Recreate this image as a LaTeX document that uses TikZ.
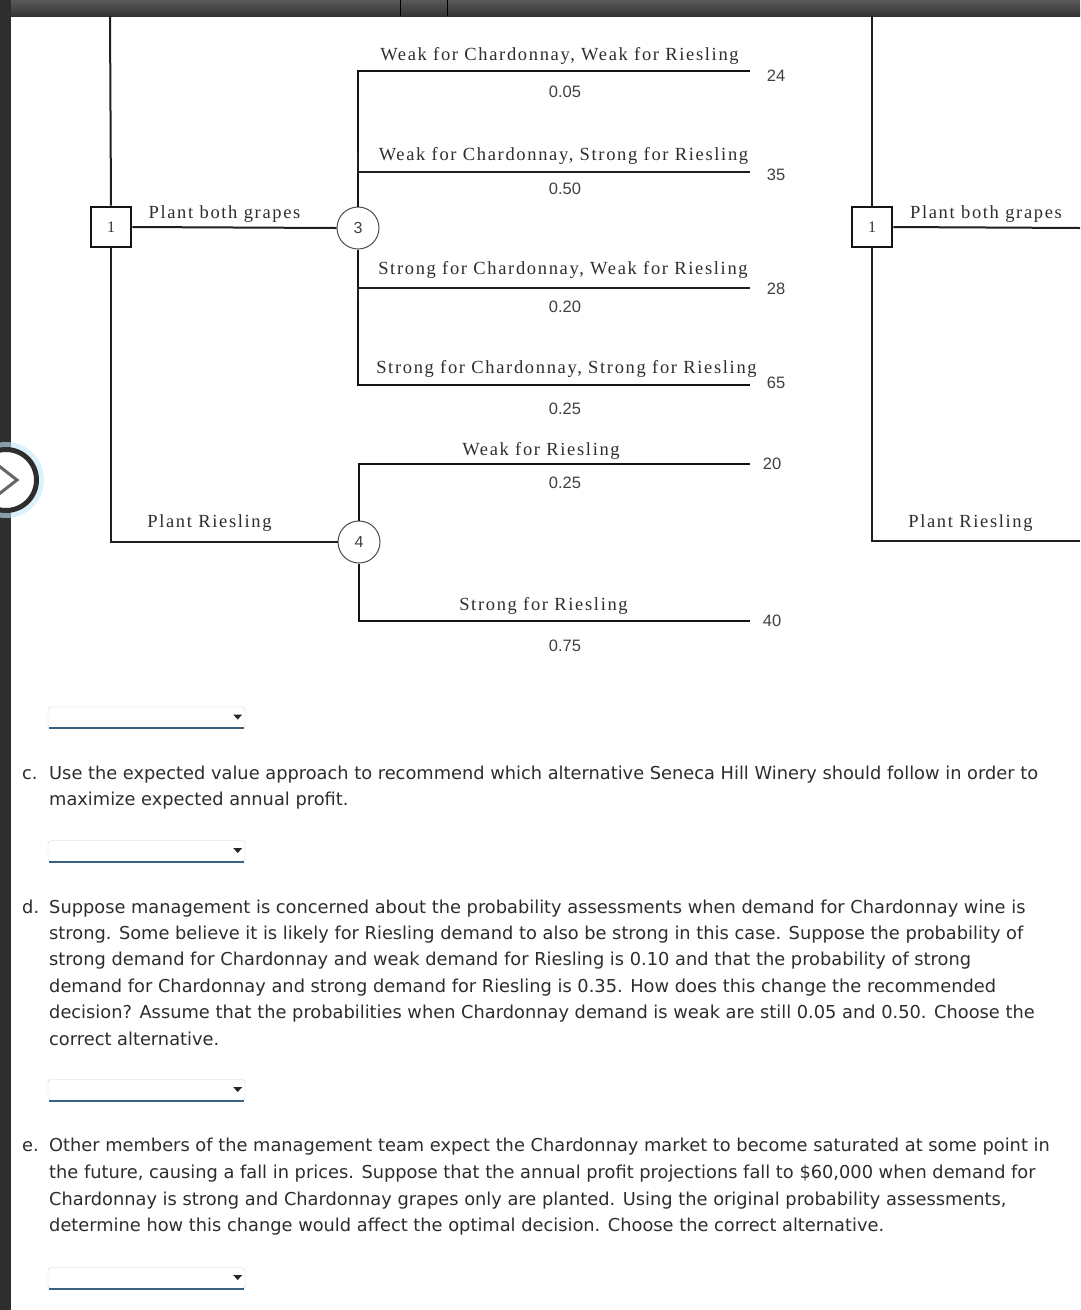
\documentclass[tikz,border=0pt]{standalone}
\usepackage{fontspec}
\setmainfont{DejaVu Sans}
\newfontfamily\treefont[LetterSpace=9]{Liberation Serif}
\newfontfamily\numfont{Liberation Sans}
\definecolor{ddblue}{RGB}{58,98,128}
\definecolor{txt}{RGB}{45,45,45}
\begin{document}
\begin{tikzpicture}[x=1pt,y=-1pt,
  treeline/.style={draw=black!88, line width=2pt},
  chanceline/.style={draw=black!92, line width=2.6pt},
  lbl/.style={font=\treefont\fontsize{18.5}{18.5}\selectfont, text=black!82, inner sep=0pt},
  num/.style={font=\numfont\fontsize{16.5}{16.5}\selectfont, text=black!75, inner sep=0pt},
  para/.style={anchor=base west, font=\fontsize{17.8}{20}\selectfont, text=txt, inner sep=0pt},
  decbox/.style={draw=black!92, line width=2.8pt, minimum size=40pt, fill=white, inner sep=0pt,
    font=\treefont\fontsize{16}{16}\selectfont, text=black!80},
  chance/.style={circle, draw=black!70, line width=1pt, minimum size=42pt, fill=white, inner sep=0pt,
    font=\numfont\fontsize{16}{16}\selectfont, text=black!75},
  dropdown/.style={draw=black!18, fill=white, rounded corners=3pt, minimum width=197pt, minimum height=21pt, inner sep=0pt},
  ddline/.style={draw=ddblue, line width=2.4pt},
]
\useasboundingbox (0,0) rectangle (1080,1310);
\fill[white] (0,0) rectangle (1080,1310);

% ---- frame of the screenshot
\fill[top color=black!65, bottom color=black!80] (0,0) rectangle (1080,16);
\draw[black, line width=1pt] (400,0) -- (400,16);
\draw[black, line width=1pt] (447,0) -- (447,16);
\fill[black!82] (0,0) rectangle (11,1310);
\fill[cyan!25, opacity=0.6] (6,480) circle (38);
\draw[line width=5pt, draw=black!82, fill=white] (6,480) circle (30.5);
\draw[black!60, line width=3pt] (-1,466) -- (17,480) -- (-1,494);

% ---- left tree
\coordinate (t1) at (110,16);
\node[decbox] (d1) at (111,227) {1};
\node[chance] (c3) at (358,228) {3};
\node[chance] (c4) at (359,542) {4};
\coordinate (e1) at (750,71);
\coordinate (e2) at (750,172);
\coordinate (e3) at (750,288);
\coordinate (e4) at (750,385);
\coordinate (e5) at (750,464);
\coordinate (e6) at (750,621);

\draw[treeline] (t1) -- (d1.north);
\draw[treeline] (d1.east) -- (c3.west);
\draw[treeline] (d1.south) |- (c4.west);
\draw[chanceline] (c3.north) |- (e1);
\draw[treeline] (c3.north) ++(0,-55) |- (e2);
\draw[chanceline] (c3.south) |- (e4);
\draw[treeline] (c3.south) ++(0,50) |- (e3);
\draw[chanceline] (c4.north) |- (e5);
\draw[chanceline] (c4.south) |- (e6);

\node[lbl] (pb) at (224.5,214) {Plant both grapes};
\node[lbl] (pr) at (209.5,523) {Plant Riesling};

\node[lbl] (l1) at (559.5,56) {Weak for Chardonnay, Weak for Riesling};
\node[lbl] (l2) at (563.5,156) {Weak for Chardonnay, Strong for Riesling};
\node[lbl] (l3) at (563,270) {Strong for Chardonnay, Weak for Riesling};
\node[lbl] (l4) at (566.5,369) {Strong for Chardonnay, Strong for Riesling};
\node[lbl] (l5) at (541,451) {Weak for Riesling};
\node[lbl] (l6) at (543.5,606) {Strong for Riesling};

\node[num] (p1) at (565,92) {0.05};
\node[num] (p2) at (565,189) {0.50};
\node[num] (p3) at (565,307) {0.20};
\node[num] (p4) at (565,409) {0.25};
\node[num] (p5) at (565,483) {0.25};
\node[num] (p6) at (565,646) {0.75};

\node[num] (v1) at (776,76) {24};
\node[num] (v2) at (776,175) {35};
\node[num] (v3) at (776,289) {28};
\node[num] (v4) at (776,383) {65};
\node[num] (v5) at (772,464) {20};
\node[num] (v6) at (772,621) {40};

% ---- right partial tree
\coordinate (t2) at (872,16);
\node[decbox] (d2) at (872,227) {1};
\coordinate (r1) at (1080,228);
\coordinate (r2) at (1080,541);
\draw[treeline] (t2) -- (d2.north);
\draw[treeline] (d2.east) -- (r1);
\draw[treeline] (d2.south) |- (r2);
\node[lbl] (pb2) at (986,214) {Plant both grapes};
\node[lbl] (pr2) at (970.5,523) {Plant Riesling};

% ---- dropdowns
\node[dropdown] (dd1) at (146.5,717.5) {};
\node[dropdown] (dd2) at (146.5,851) {};
\node[dropdown] (dd3) at (146.5,1090) {};
\node[dropdown] (dd4) at (146.5,1278) {};
\foreach \d in {dd1,dd2,dd3,dd4}{
  \draw[ddline] (\d.south west) ++(1,0) -- ([xshift=-1pt]\d.south east);
  \fill[black!85] (\d.east) ++(-12,-3) -- ++(9,0) -- ++(-4.5,5) -- cycle;
}

% ---- question text
\node[para] (qc) at (22,779) {c.};
\node[para] (c1) at (49,779) {Use the expected value approach to recommend which alternative Seneca Hill Winery should follow in order to};
\node[para] (c2) at (49,805.6) {maximize expected annual profit.};

\node[para] (qd) at (22,913) {d.};
\node[para] (d1t) at (49,913) {Suppose management is concerned about the probability assessments when demand for Chardonnay wine is};
\node[para] (d2t) at (49,939.4) {strong. Some believe it is likely for Riesling demand to also be strong in this case. Suppose the probability of};
\node[para] (d3t) at (49,965.8) {strong demand for Chardonnay and weak demand for Riesling is 0.10 and that the probability of strong};
\node[para] (d4t) at (49,992.2) {demand for Chardonnay and strong demand for Riesling is 0.35. How does this change the recommended};
\node[para] (d5t) at (49,1018.6) {decision? Assume that the probabilities when Chardonnay demand is weak are still 0.05 and 0.50. Choose the};
\node[para] (d6t) at (49,1045) {correct alternative.};

\node[para] (qe) at (22,1151.7) {e.};
\node[para] (e1t) at (49,1151.7) {Other members of the management team expect the Chardonnay market to become saturated at some point in};
\node[para] (e2t) at (49,1178.4) {the future, causing a fall in prices. Suppose that the annual profit projections fall to \$60,000 when demand for};
\node[para] (e3t) at (49,1205) {Chardonnay is strong and Chardonnay grapes only are planted. Using the original probability assessments,};
\node[para] (e4t) at (49,1231.7) {determine how this change would affect the optimal decision. Choose the correct alternative.};
\end{tikzpicture}
\end{document}
